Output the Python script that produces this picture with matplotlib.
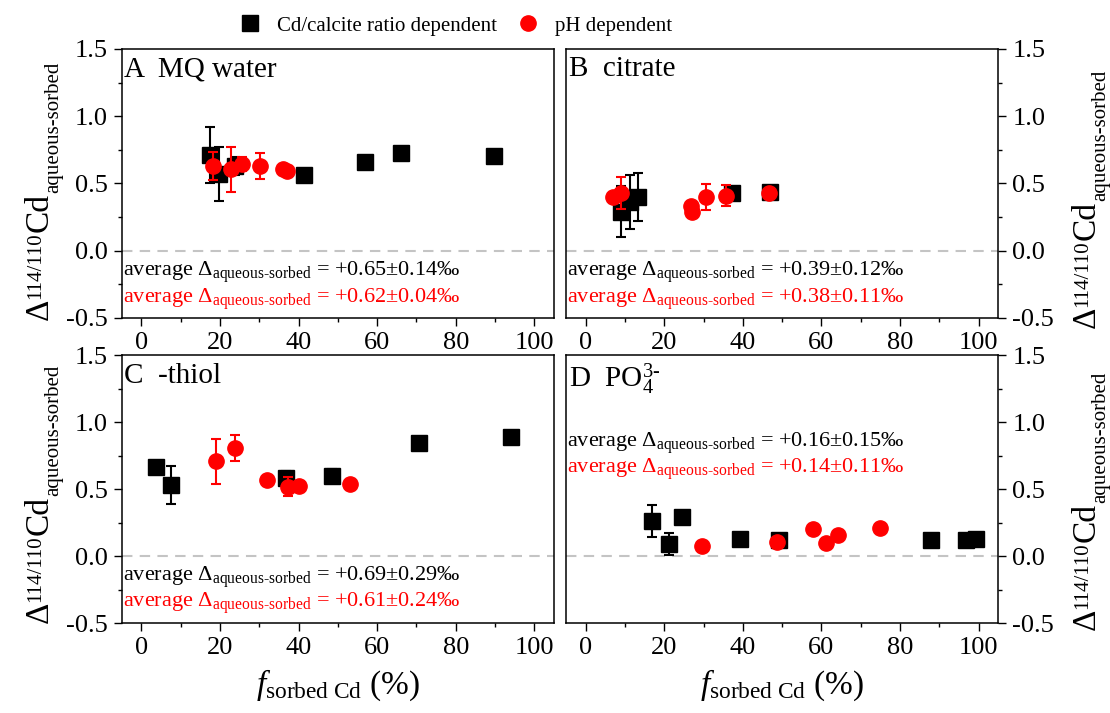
import matplotlib.pyplot as plt
from matplotlib.lines import Line2D
from matplotlib.ticker import MultipleLocator
from matplotlib.transforms import IdentityTransform

plt.rcParams['font.family'] = 'Liberation Serif'
plt.rcParams['mathtext.fontset'] = 'custom'
plt.rcParams['mathtext.rm'] = 'Liberation Serif'
plt.rcParams['mathtext.it'] = 'Liberation Serif:italic'
plt.rcParams['mathtext.bf'] = 'Liberation Serif:bold'
plt.rcParams['axes.unicode_minus'] = False

RED = '#ff0000'

# A  MQ water
a_ratio_x = [17.4, 19.8, 23.8, 41.5, 57.0, 66.0, 89.8]
a_ratio_y = [0.71, 0.57, 0.63, 0.56, 0.66, 0.73, 0.705]
a_ratio_err = [0.21, 0.20, 0.07, 0.02, 0.02, 0.02, 0.02]
a_ph_x = [18.3, 22.9, 25.5, 30.2, 36.1, 37.1]
a_ph_y = [0.63, 0.605, 0.645, 0.63, 0.61, 0.59]
a_ph_err = [0.105, 0.165, 0.05, 0.10, 0.02, 0.02]

# B  citrate
b_ratio_x = [9.1, 11.2, 13.3, 37.3, 46.9]
b_ratio_y = [0.29, 0.36, 0.40, 0.43, 0.44]
b_ratio_err = [0.19, 0.20, 0.18, 0.02, 0.02]
b_ph_x = [6.9, 9.1, 26.9, 27.1, 30.5, 35.8, 46.6]
b_ph_y = [0.40, 0.43, 0.33, 0.29, 0.40, 0.41, 0.43]
b_ph_err = [0.02, 0.12, 0.02, 0.02, 0.095, 0.08, 0.02]

# C  -thiol
c_ratio_x = [3.8, 7.5, 36.8, 48.5, 70.6, 94.0]
c_ratio_y = [0.667, 0.53, 0.585, 0.60, 0.846, 0.89]
c_ratio_err = [0.02, 0.14, 0.05, 0.05, 0.02, 0.02]
c_ph_x = [19.1, 23.8, 31.9, 37.4, 40.2, 53.0]
c_ph_y = [0.706, 0.807, 0.567, 0.517, 0.522, 0.537]
c_ph_err = [0.17, 0.096, 0.02, 0.07, 0.02, 0.02]

# D  PO4
d_ratio_x = [16.9, 21.2, 24.6, 39.4, 49.3, 87.9, 96.8, 99.3]
d_ratio_y = [0.26, 0.09, 0.29, 0.127, 0.12, 0.12, 0.12, 0.13]
d_ratio_err = [0.12, 0.085, 0.03, 0.03, 0.03, 0.02, 0.02, 0.02]
d_ph_x = [29.6, 48.7, 57.8, 61.2, 64.2, 75.0]
d_ph_y = [0.075, 0.107, 0.20, 0.095, 0.157, 0.206]
d_ph_err = [0.02, 0.02, 0.02, 0.02, 0.02, 0.02]

titles = ['A  MQ water', 'B  citrate', 'C  -thiol', 'D  PO$_4^{3\\text{-}}$']
avg_ratio = ['+0.65±0.14‰', '+0.39±0.12‰', '+0.69±0.29‰', '+0.16±0.15‰']
avg_ph = ['+0.62±0.04‰', '+0.38±0.11‰', '+0.61±0.24‰', '+0.14±0.11‰']
avg_y = [(-0.188, -0.387), (-0.188, -0.387), (-0.184, -0.378), (0.815, 0.62)]
title_y = [1.296, 1.296, 1.289, 1.26]

ratio_data = [(a_ratio_x, a_ratio_y, a_ratio_err), (b_ratio_x, b_ratio_y, b_ratio_err),
              (c_ratio_x, c_ratio_y, c_ratio_err), (d_ratio_x, d_ratio_y, d_ratio_err)]
ph_data = [(a_ph_x, a_ph_y, a_ph_err), (b_ph_x, b_ph_y, b_ph_err),
           (c_ph_x, c_ph_y, c_ph_err), (d_ph_x, d_ph_y, d_ph_err)]

fig = plt.figure(figsize=(11.1, 7.13), dpi=100)
W, H = 0.3895, 0.3773
rects = [[0.1096, 0.554, W, H], [0.5099, 0.554, W, H],
         [0.1096, 0.1262, W, 0.3759], [0.5099, 0.1262, W, 0.3759]]


def stacked_ylabel(x, y):
    # Δ^114/110 Cd_aqueous-sorbed, built piece by piece (pixel coords)
    r = fig.canvas.get_renderer()
    pieces = [('Δ', 24, 0), ('114/110', 15, 8), ('Cd', 24, 0), ('aqueous-sorbed', 15, -10)]
    for s, size, shift in pieces:
        t = fig.text(x - shift, y, s, fontsize=size, rotation=90, rotation_mode='anchor',
                     ha='left', va='baseline', transform=IdentityTransform())
        y += t.get_window_extent(r).height


for i in range(4):
    ax = fig.add_axes(rects[i])
    ax.axhline(0, color='#c4c4c4', ls=(0, (5, 3.5)), lw=1.5, zorder=1)
    rx, ry, re = ratio_data[i]
    px, py, pe = ph_data[i]
    ax.errorbar(rx, ry, yerr=re, fmt='s', color='black', ms=11, capsize=3.6,
                elinewidth=1.5, capthick=1.5, zorder=3)
    ax.errorbar(px, py, yerr=pe, fmt='o', color=RED, ms=11, capsize=3.6,
                elinewidth=1.5, capthick=1.5, zorder=4)
    ax.set_xlim(-5, 105)
    ax.set_ylim(-0.5, 1.5)
    ax.xaxis.set_major_locator(MultipleLocator(20))
    ax.xaxis.set_minor_locator(MultipleLocator(10))
    ax.yaxis.set_major_locator(MultipleLocator(0.5))
    ax.yaxis.set_minor_locator(MultipleLocator(0.25))
    ax.yaxis.set_major_formatter(plt.FormatStrFormatter('%.1f'))
    ax.tick_params(which='both', direction='out', width=1.0, labelsize=19, pad=4)
    ax.tick_params(which='major', length=6)
    ax.tick_params(which='minor', length=3)
    if i % 2 == 1:
        ax.yaxis.tick_right()
    for sp in ax.spines.values():
        sp.set_linewidth(1.1)

    ax.text(0.006, title_y[i], titles[i], fontsize=21, transform=ax.get_yaxis_transform(),
            va='baseline', ha='left')
    ax.text(0.003, avg_y[i][0], 'average Δ$_{\\text{aqueous-sorbed}}$ = ' + avg_ratio[i],
            fontsize=16, color='black', transform=ax.get_yaxis_transform(), va='baseline')
    ax.text(0.003, avg_y[i][1], 'average Δ$_{\\text{aqueous-sorbed}}$ = ' + avg_ph[i],
            fontsize=16, color=RED, transform=ax.get_yaxis_transform(), va='baseline')

    if i >= 2:
        ax.set_xlabel('$f_{\\text{sorbed Cd}}$ (%)', fontsize=24)
        ax.xaxis.set_label_coords(0.5, -0.165)

stacked_ylabel(48, 713 - 320)
stacked_ylabel(1095, 713 - 328)
stacked_ylabel(48, 713 - 623)
stacked_ylabel(1095, 713 - 630)

handles = [Line2D([], [], ls='none', marker='s', color='black', ms=11),
           Line2D([], [], ls='none', marker='o', color=RED, ms=11)]
fig.legend(handles, ['Cd/calcite ratio dependent', 'pH dependent'], loc='center',
           bbox_to_anchor=(456 / 1110, 1 - 26 / 713), ncol=2, frameon=False, fontsize=15,
           handlelength=1.0, handletextpad=0.8, columnspacing=1.0)

fig.savefig('out.png', dpi=100)
